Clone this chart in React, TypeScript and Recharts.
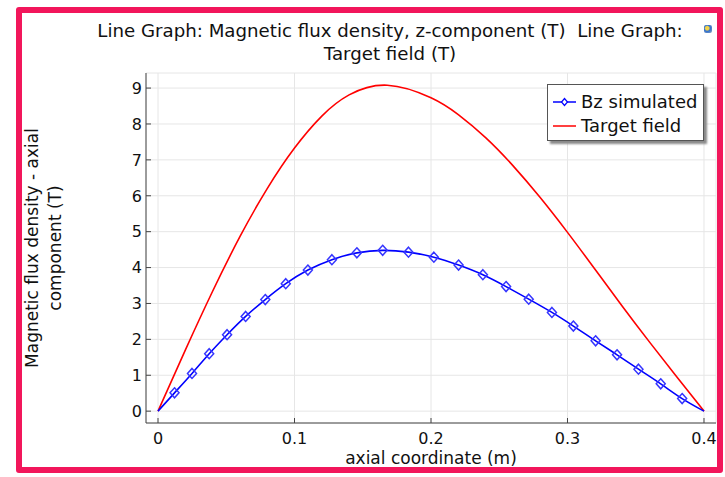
import React from "react";
import {
  LineChart,
  Line,
  XAxis,
  YAxis,
  CartesianGrid,
  Legend,
} from "recharts";

// ---- data ----
const xTicks = [0, 0.1, 0.2, 0.3, 0.4];
const yTicks = [0, 1, 2, 3, 4, 5, 6, 7, 8, 9];

const bzX = [0, 0.0121, 0.0249, 0.0375, 0.0506, 0.0642, 0.0786, 0.0936, 0.1098, 0.1274, 0.1457, 0.1646, 0.1835, 0.2021, 0.2202, 0.238, 0.255, 0.2716, 0.2886, 0.3043, 0.3206, 0.3363, 0.352, 0.3683, 0.384, 0.4];
const bzY = [0, 0.51, 1.05, 1.6, 2.13, 2.64, 3.11, 3.55, 3.93, 4.22, 4.41, 4.48, 4.43, 4.29, 4.07, 3.8, 3.47, 3.12, 2.75, 2.37, 1.96, 1.57, 1.17, 0.76, 0.35, 0];

const targetX = [0, 0.02, 0.04, 0.06, 0.08, 0.1, 0.12, 0.14, 0.168, 0.2, 0.22, 0.24, 0.26, 0.28, 0.3, 0.32, 0.34, 0.36, 0.38, 0.4];
const targetY = [0, 1.7, 3.34, 4.86, 6.2, 7.33, 8.22, 8.81, 9.08, 8.73, 8.26, 7.62, 6.84, 5.95, 4.98, 3.96, 2.93, 1.93, 0.96, 0];

const seriesNames = ["Bz simulated", "Target field"];
const titleLines = [
  "Line Graph: Magnetic flux density, z-component (T)  Line Graph:",
  "Target field (T)",
];
const yLabelLines = ["Magnetic flux density - axial", "component (T)"];
const xLabel = "axial coordinate (m)";

const bzData = bzX.map((x, i) => ({ x, y: bzY[i], m: i > 0 && i < bzX.length - 1 }));
const targetData = targetX.map((x, i) => ({ x, y: targetY[i] }));

const X_DOMAIN: [number, number] = [-0.0088, 0.4088];
const Y_DOMAIN: [number, number] = [-0.33, 9.42];

const FONT = "'DejaVu Sans', sans-serif";
const BLUE = "#0000ff";
const RED = "#ff0000";
const AXIS = "#444444";

const Diamond = (props: any) => {
  const { cx, cy, payload } = props;
  if (!payload || !payload.m || cx == null || cy == null) return <g />;
  return (
    <path
      d={`M${cx},${cy - 5} L${cx + 4.5},${cy} L${cx},${cy + 5} L${cx - 4.5},${cy} Z`}
      fill="none"
      stroke="#3535ff"
      strokeWidth={1.5}
    />
  );
};

const BottomTick = (props: any) => {
  const { x, y, payload } = props;
  return (
    <g>
      <line x1={x} y1={y} x2={x} y2={y - 5} stroke={AXIS} />
      <text x={x} y={y + 21} textAnchor="middle" fontSize={16} fontFamily={FONT} fill="#111">
        {payload.value}
      </text>
    </g>
  );
};

const TopTick = (props: any) => {
  const { x, y } = props;
  return <line x1={x} y1={y} x2={x} y2={y + 5} stroke={AXIS} />;
};

const LeftTick = (props: any) => {
  const { x, y, payload } = props;
  return (
    <g>
      <line x1={x} y1={y} x2={x + 5} y2={y} stroke={AXIS} />
      <text x={x - 4} y={y} dy="0.36em" textAnchor="end" fontSize={16} fontFamily={FONT} fill="#111">
        {payload.value}
      </text>
    </g>
  );
};

const RightTick = (props: any) => {
  const { x, y } = props;
  return <line x1={x} y1={y} x2={x - 5} y2={y} stroke={AXIS} />;
};

const LegendBox = () => (
  <div
    style={{
      background: "#fff",
      border: "1px solid #555",
      boxShadow: "3px 3px 2px #8a8a8a",
      width: 157,
      height: 57,
      boxSizing: "border-box",
      fontFamily: FONT,
      fontSize: 18,
      color: "#111",
      position: "relative",
    }}
  >
    <svg width={30} height={56} style={{ position: "absolute", left: 4, top: 0 }}>
      <line x1={1} y1={17} x2={24} y2={17} stroke={BLUE} strokeWidth={1.5} />
      <path d="M12.5,13.5 L15.5,17 L12.5,20.5 L9.5,17 Z" fill="#fff" stroke={BLUE} strokeWidth={1.2} />
      <line x1={1} y1={41} x2={24} y2={41} stroke={RED} strokeWidth={1.5} />
    </svg>
    <div style={{ position: "absolute", left: 33, top: 5, lineHeight: "24px", whiteSpace: "nowrap" }}>
      <div>{seriesNames[0]}</div>
      <div>{seriesNames[1]}</div>
    </div>
  </div>
);

export default function App() {
  return (
    <div
      style={{
        position: "absolute",
        left: 0,
        top: 0,
        width: 725,
        height: 477,
        background: "#fff",
        overflow: "hidden",
        fontFamily: FONT,
      }}
    >
      {/* pink frame */}
      <div
        style={{
          position: "absolute",
          left: 16,
          top: 7,
          width: 707,
          height: 466,
          border: "6px solid #f2165b",
          borderRadius: 3,
          boxSizing: "border-box",
        }}
      />
      {/* small icon */}
      <div
        style={{
          position: "absolute",
          left: 704,
          top: 25,
          width: 8,
          height: 8,
          borderRadius: 2,
          background: "radial-gradient(circle at 40% 40%, #f3d34a 0 25%, #2f6fd0 45%, #9ab 100%)",
        }}
      />
      <div style={{ position: "absolute", left: 0, top: 0 }}>
        <LineChart
          width={725}
          height={477}
          margin={{ top: 73, right: 9, bottom: 24, left: 106 }}
        >
          <CartesianGrid stroke="#e6e6e6" strokeWidth={1} />
          <XAxis
            xAxisId={0}
            dataKey="x"
            type="number"
            domain={X_DOMAIN}
            ticks={xTicks}
            allowDataOverflow
            height={30}
            tickSize={0}
            tickMargin={0}
            tickLine={false}
            axisLine={{ stroke: AXIS }}
            tick={<BottomTick />}
            interval={0}
          />
          <XAxis
            xAxisId="top"
            orientation="top"
            dataKey="x"
            type="number"
            domain={X_DOMAIN}
            ticks={xTicks}
            allowDataOverflow
            height={0}
            tickSize={0}
            tickMargin={0}
            tickLine={false}
            axisLine={{ stroke: AXIS }}
            tick={<TopTick />}
            interval={0}
          />
          <YAxis
            yAxisId={0}
            type="number"
            domain={Y_DOMAIN}
            ticks={yTicks}
            allowDataOverflow
            width={40}
            tickSize={0}
            tickMargin={0}
            tickLine={false}
            axisLine={{ stroke: AXIS }}
            tick={<LeftTick />}
            interval={0}
          />
          <YAxis
            yAxisId="right"
            orientation="right"
            type="number"
            domain={Y_DOMAIN}
            ticks={yTicks}
            allowDataOverflow
            width={0}
            tickSize={0}
            tickMargin={0}
            tickLine={false}
            axisLine={{ stroke: AXIS }}
            tick={<RightTick />}
            interval={0}
          />
          <Legend
            layout="horizontal"
            verticalAlign="middle"
            align="center"
            content={<LegendBox />}
            wrapperStyle={{ left: 547, top: 84, width: 160, height: 60 }}
          />
          <Line
            name={seriesNames[1]}
            data={targetData}
            dataKey="y"
            type="natural"
            stroke={RED}
            strokeWidth={1.6}
            dot={false}
            activeDot={false}
            isAnimationActive={false}
          />
          <Line
            name={seriesNames[0]}
            data={bzData}
            dataKey="y"
            type="natural"
            stroke={BLUE}
            strokeWidth={1.6}
            dot={<Diamond />}
            activeDot={false}
            isAnimationActive={false}
          />
        </LineChart>
      </div>
      {/* title */}
      <div
        style={{
          position: "absolute",
          left: 40,
          width: 700,
          top: 19,
          textAlign: "center",
          fontSize: 18.2,
          lineHeight: "23px",
          color: "#111",
        }}
      >
        <div style={{ whiteSpace: "pre" }}>{titleLines[0]}</div>
        <div>{titleLines[1]}</div>
      </div>
      {/* y label */}
      <div
        style={{
          position: "absolute",
          left: 44 - 150,
          top: 248 - 23,
          width: 300,
          height: 46,
          textAlign: "center",
          fontSize: 17,
          lineHeight: "23px",
          color: "#111",
          transform: "rotate(-90deg)",
          transformOrigin: "150px 23px",
        }}
      >
        <div>{yLabelLines[0]}</div>
        <div>{yLabelLines[1]}</div>
      </div>
      {/* x label */}
      <div
        style={{
          position: "absolute",
          left: 431 - 150,
          top: 450,
          width: 300,
          textAlign: "center",
          fontSize: 17,
          lineHeight: "17px",
          color: "#111",
        }}
      >
        {xLabel}
      </div>
    </div>
  );
}
